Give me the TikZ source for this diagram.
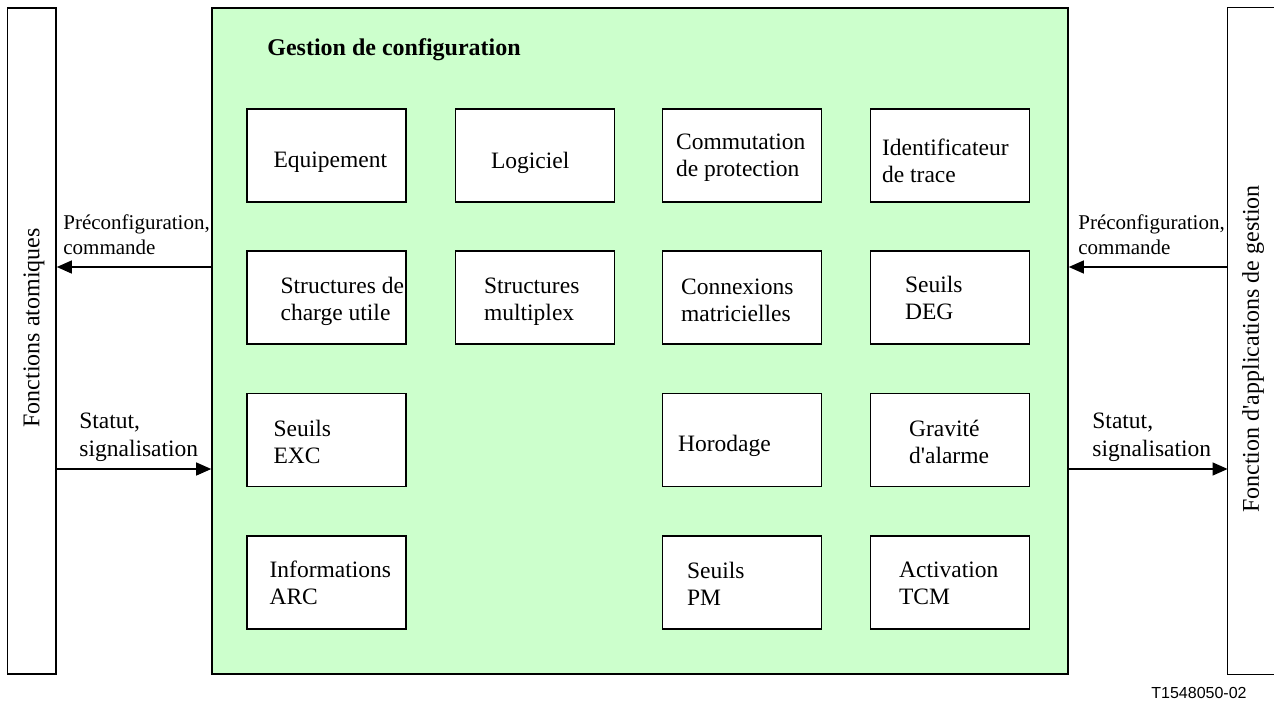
\documentclass[tikz,border=0pt]{standalone}
\usepackage{fontspec}
\setmainfont{Liberation Serif}[Ligatures=TeXOff]
\newfontfamily\figfont{Liberation Sans}
\usetikzlibrary{positioning}
\usetikzlibrary{arrows.meta}

\definecolor{cfggreen}{RGB}{204,255,204}

\tikzset{
  cfgbox/.style={draw, fill=white, line width=0.8pt, minimum width=79.5pt, minimum height=46.5pt, inner sep=0pt},
  cfgtext/.style={inner sep=0pt, align=left, font=\fontsize{11.75}{13.5}\selectfont},
  sidebar/.style={minimum height=333pt, inner sep=0pt},
  sidetext/.style={rotate=90, inner sep=0pt, font=\fontsize{12}{14}\selectfont},
  flowlbl/.style={inner sep=0pt, align=left, anchor=north west, font=\fontsize{10.5}{12.5}\selectfont},
  statlbl/.style={inner sep=0pt, align=left, anchor=north west, font=\fontsize{11.75}{14}\selectfont},
  flow/.style={line width=0.6pt, -{Triangle[length=7.5pt,width=6.5pt]}}
}

\begin{document}
\begin{tikzpicture}[x=0.5pt, y=-0.5pt]
  \useasboundingbox (0,0) rectangle (1274,702);

  % outer blocks
  \node[sidebar, draw, line width=0.8pt, minimum width=24.25pt] (fa) at (31.75,341) {};
  \node[sidebar, minimum width=31pt] (fag) at (1259,341) {};
  \draw[line width=0.8pt] (fag.north east) -- (fag.north west) -- (fag.south west) -- (fag.south east);
  \node[draw, line width=0.8pt, fill=cfggreen, minimum width=428pt, minimum height=333pt, inner sep=0pt] (gc) at (640,341) {};
  \node[sidetext] (fa-t) at (34,328) {Fonctions atomiques};
  \node[sidetext] (fag-t) at (1253,349) {Fonction d'applications de gestion};
  \node[inner sep=0pt, anchor=west, font=\fontsize{12}{14}\selectfont\bfseries] (title) at (267,50) {Gestion de configuration};

  % row 1
  \node[cfgbox] (equip) at (326.5,155.5) {};
  \node[cfgtext, right=13.5pt of equip.west, yshift=-3.5pt] (equip-t) {Equipement};
  \node[cfgbox] (logic) at (535,155.5) {};
  \node[cfgtext, right=18pt of logic.west, yshift=-3.5pt] (logic-t) {Logiciel};
  \node[cfgbox] (prot) at (742,155.5) {};
  \node[cfgtext, right=7pt of prot.west, yshift=-1pt] (prot-t) {Commutation\\de protection};
  \node[cfgbox] (trace) at (950,155.5) {};
  \node[cfgtext, right=6pt of trace.west, yshift=-2.5pt] (trace-t) {Identificateur\\de trace};

  % row 2
  \node[cfgbox] (charge) at (326.5,297.5) {};
  \node[cfgtext, right=17pt of charge.west, yshift=-2pt] (charge-t) {Structures de\\charge utile};
  \node[cfgbox] (mplex) at (535,297.5) {};
  \node[cfgtext, right=14.5pt of mplex.west, yshift=-2pt] (mplex-t) {Structures\\multiplex};
  \node[cfgbox] (xconn) at (742,297.5) {};
  \node[cfgtext, right=9.5pt of xconn.west, yshift=-1.25pt] (xconn-t) {Connexions\\matricielles};
  \node[cfgbox] (deg) at (950,297.5) {};
  \node[cfgtext, right=17.5pt of deg.west] (deg-t) {Seuils\\DEG};

  % row 3
  \node[cfgbox] (exc) at (326.5,440) {};
  \node[cfgtext, right=13.5pt of exc.west, yshift=-0.75pt] (exc-t) {Seuils\\EXC};
  \node[cfgbox] (horo) at (742,440) {};
  \node[cfgtext, right=8pt of horo.west, yshift=-3pt] (horo-t) {Horodage};
  \node[cfgbox] (grav) at (950,440) {};
  \node[cfgtext, right=19.5pt of grav.west, yshift=-0.75pt] (grav-t) {Gravité\\d'alarme};

  % row 4
  \node[cfgbox] (arc) at (326.5,582.5) {};
  \node[cfgtext, right=11.5pt of arc.west] (arc-t) {Informations\\ARC};
  \node[cfgbox] (pm) at (742,582.5) {};
  \node[cfgtext, right=12.5pt of pm.west, yshift=-0.5pt] (pm-t) {Seuils\\PM};
  \node[cfgbox] (tcm) at (950,582.5) {};
  \node[cfgtext, right=14.5pt of tcm.west, yshift=-0.5pt] (tcm-t) {Activation\\TCM};

  % flows
  \coordinate (cmd) at (0,267);
  \coordinate (sts) at (0,469);
  \draw[flow] (gc.west |- cmd) -- (fa.east |- cmd);
  \draw[flow] (fag.west |- cmd) -- (gc.east |- cmd);
  \draw[flow] (fa.east |- sts) -- (gc.west |- sts);
  \draw[flow] (gc.east |- sts) -- (fag.west |- sts);
  \node[flowlbl] (cmd-l) at (63,214) {Préconfiguration,\\commande};
  \node[flowlbl] (cmd-r) at (1078,214) {Préconfiguration,\\commande};
  \node[statlbl] (sts-l) at (79,413) {Statut,\\signalisation};
  \node[statlbl] (sts-r) at (1092,413) {Statut,\\signalisation};

  \node[inner sep=0pt, font=\figfont\fontsize{8}{10}\selectfont] (fig) at (1199,693) {T1548050-02};
\end{tikzpicture}
\end{document}
